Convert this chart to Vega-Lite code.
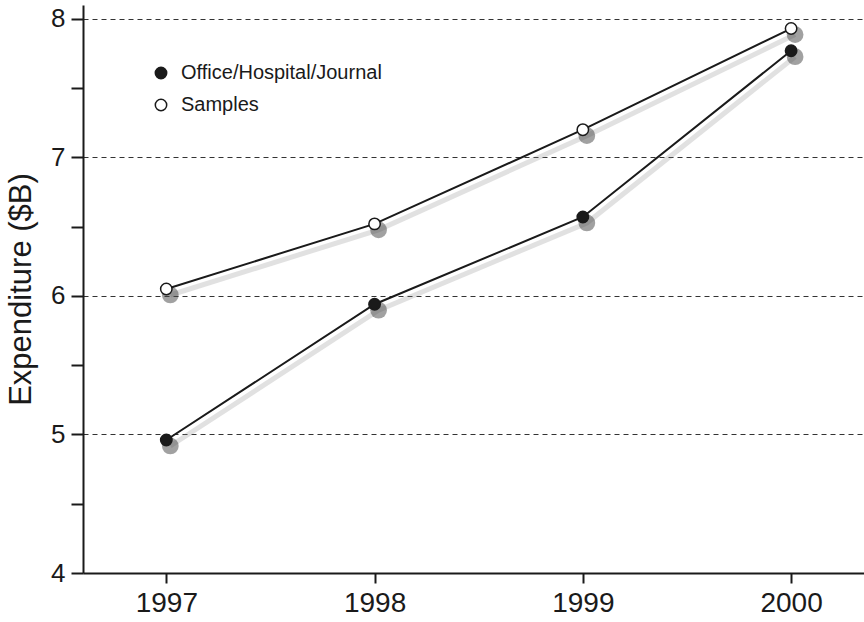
{
  "$schema": "https://vega.github.io/schema/vega-lite/v6.json",
  "autosize": "none",
  "width": 781,
  "height": 568,
  "padding": {"left": 83, "top": 5, "right": 0, "bottom": 49},
  "background": "white",
  "config": {
    "font": "Liberation Sans",
    "view": {"stroke": null},
    "axis": {"domainColor": "#1a1a1a", "tickColor": "#1a1a1a", "labelColor": "#1a1a1a", "titleColor": "#1a1a1a", "domainWidth": 2, "tickWidth": 2}
  },
  "data": {"values": [
    {"year": 1997, "series": "Office/Hospital/Journal", "value": 4.96},
    {"year": 1998, "series": "Office/Hospital/Journal", "value": 5.94},
    {"year": 1999, "series": "Office/Hospital/Journal", "value": 6.57},
    {"year": 2000, "series": "Office/Hospital/Journal", "value": 7.77},
    {"year": 1997, "series": "Samples", "value": 6.05},
    {"year": 1998, "series": "Samples", "value": 6.52},
    {"year": 1999, "series": "Samples", "value": 7.2},
    {"year": 2000, "series": "Samples", "value": 7.93}
  ]},
  "encoding": {
    "x": {"field": "year", "type": "quantitative", "scale": {"domain": [1996.6, 2000.35], "nice": false, "zero": false},
      "axis": {"values": [1997, 1998, 1999, 2000], "format": "d", "title": null, "grid": false, "labelFontSize": 28, "tickSize": 10, "labelPadding": 6}},
    "y": {"field": "value", "type": "quantitative", "scale": {"domain": [4, 8.1], "nice": false, "zero": false},
      "axis": {"values": [4, 4.5, 5, 5.5, 6, 6.5, 7, 7.5, 8], "labelExpr": "datum.value % 1 === 0 ? format(datum.value, 'd') : ''",
        "title": "Expenditure ($B)", "titleFontSize": 31, "titleFontWeight": "normal", "titlePadding": 13,
        "labelFontSize": 26, "ticks": true, "tickOpacity": 1, "tickSize": 12, "labelPadding": 6,
        "grid": true, "gridDash": [5, 4], "gridColor": "#333333", "gridWidth": 1,
        "gridOpacity": {"condition": {"test": "datum.value % 1 === 0 && datum.value > 4", "value": 1}, "value": 0}}}
  },
  "layer": [
    {"mark": {"type": "line", "color": "#888888", "strokeWidth": 5, "opacity": 0.25, "xOffset": 4, "yOffset": 6},
     "encoding": {"detail": {"field": "series"}}},
    {"mark": {"type": "point", "filled": true, "color": "#444444", "size": 280, "opacity": 0.5, "xOffset": 4, "yOffset": 6},
     "encoding": {"detail": {"field": "series"}}},
    {"mark": {"type": "line", "color": "#1a1a1a", "strokeWidth": 2},
     "encoding": {"detail": {"field": "series"}}},
    {"mark": {"type": "point", "shape": "circle", "stroke": "#1a1a1a", "strokeWidth": 1.5, "size": 130, "opacity": 1},
     "encoding": {"fill": {"field": "series", "type": "nominal",
       "scale": {"domain": ["Office/Hospital/Journal", "Samples"], "range": ["#1a1a1a", "#ffffff"]},
       "legend": {"title": null, "orient": "none", "legendX": 68, "legendY": 58, "padding": 0, "labelFontSize": 20, "labelLimit": 400, "labelColor": "#1a1a1a",
         "symbolStrokeColor": "#1a1a1a", "symbolStrokeWidth": 1.5, "symbolSize": 130, "rowPadding": 12, "labelOffset": 10}}}}
  ]
}
